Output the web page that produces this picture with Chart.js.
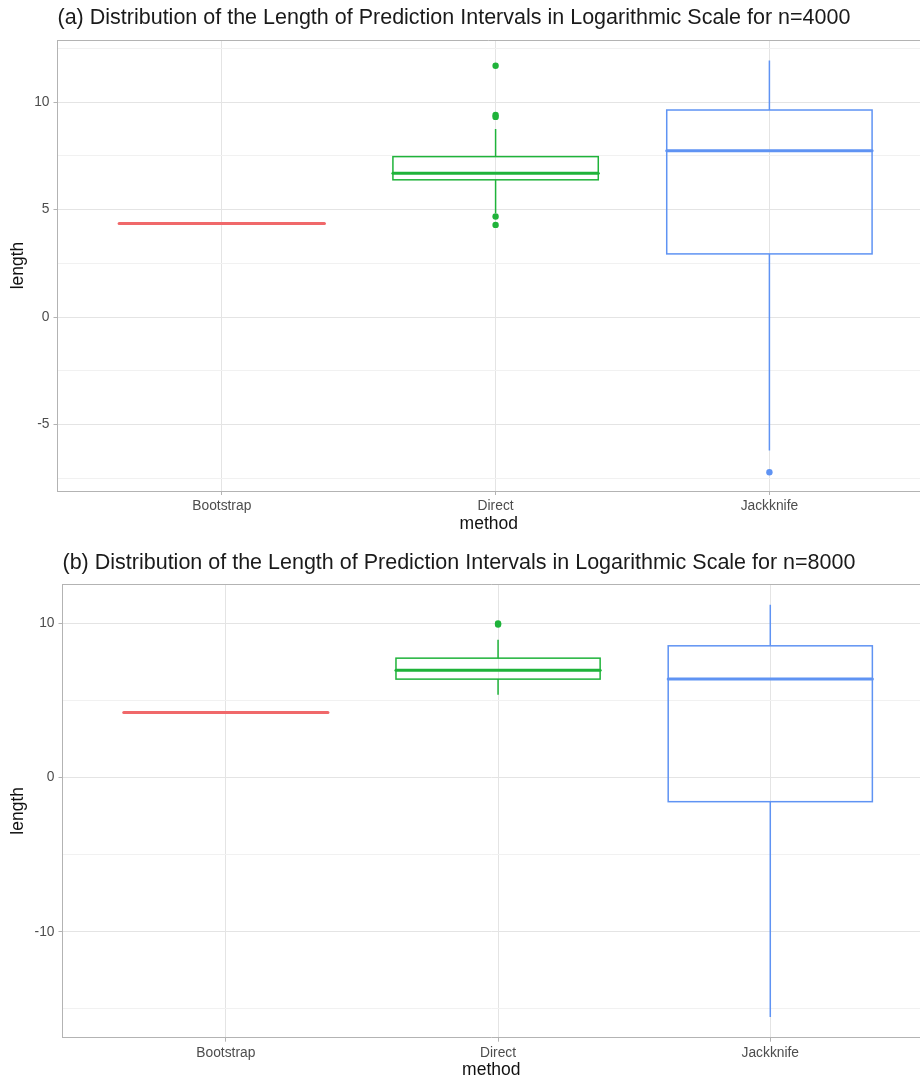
<!DOCTYPE html>
<html>
<head>
<meta charset="utf-8">
<title>Length of prediction intervals</title>
<script src="https://cdn.jsdelivr.net/npm/chart.js@4.4.0/dist/chart.umd.min.js"></script>
<style>
  html, body { margin: 0; padding: 0; background: #fff; }
  .wrap { width: 920px; overflow: hidden; }
  canvas { display: block; }
</style>
</head>
<body>
<div class="wrap">
<canvas id="chartA" width="924" height="540"></canvas>
<canvas id="chartB" width="924" height="543"></canvas>
</div>
<script>
const methods = ['Bootstrap', 'Direct', 'Jackknife'];
const colors = ['#f0686a', '#1fb33a', '#5f93f3'];

// (a) n=4000 : box stats per method
const lowerA = [4.35, 4.85, -6.22];
const q1A = [4.35, 6.39, 2.94];
const medianA = [4.35, 6.70, 7.74];
const q3A = [4.35, 7.47, 9.64];
const upperA = [4.35, 8.76, 11.95];
const outliersA = [[], [11.70, 9.41, 9.32, 4.68, 4.29], [-7.23]];
const yTicksA = [-7.5, -5, -2.5, 0, 2.5, 5, 7.5, 10, 12.5];

// (b) n=8000
const lowerB = [4.22, 5.37, -15.52];
const q1B = [4.22, 6.39, -1.56];
const medianB = [4.22, 6.97, 6.39];
const q3B = [4.22, 7.75, 8.55];
const upperB = [4.22, 8.94, 11.21];
const outliersB = [[], [9.93, 10.0], []];
const yTicksB = [-15, -10, -5, 0, 5, 10];

const boxWidth = 0.75;
const font = "'Liberation Sans', Arial, Helvetica, sans-serif";

// draws the boxes, whiskers and medians from the stats through the chart scales
function boxPlugin(stats) {
    return {
        id: 'boxes',
        beforeDatasetsDraw(chart) {
            const { ctx, chartArea, scales: { x, y } } = chart;
            ctx.save();
            // top panel border
            ctx.strokeStyle = '#b3b3b3';
            ctx.lineWidth = 1;
            ctx.beginPath();
            ctx.moveTo(chartArea.left, chartArea.top + 0.5);
            ctx.lineTo(chartArea.right, chartArea.top + 0.5);
            ctx.stroke();

            methods.forEach((m, i) => {
                const cx = x.getPixelForValue(i);
                const l = x.getPixelForValue(i - boxWidth / 2);
                const r = x.getPixelForValue(i + boxWidth / 2);
                const yLo = y.getPixelForValue(stats.lower[i]);
                const yQ1 = y.getPixelForValue(stats.q1[i]);
                const yMed = y.getPixelForValue(stats.median[i]);
                const yQ3 = y.getPixelForValue(stats.q3[i]);
                const yHi = y.getPixelForValue(stats.upper[i]);
                ctx.strokeStyle = colors[i];
                ctx.lineWidth = 1.5;
                ctx.beginPath();
                ctx.moveTo(cx, yHi); ctx.lineTo(cx, yQ3);
                ctx.moveTo(cx, yQ1); ctx.lineTo(cx, yLo);
                ctx.stroke();
                ctx.strokeRect(l, yQ3, r - l, yQ1 - yQ3);
                ctx.lineWidth = 3;
                ctx.lineCap = 'round';
                ctx.beginPath();
                ctx.moveTo(l, yMed); ctx.lineTo(r, yMed);
                ctx.stroke();
                ctx.lineCap = 'butt';
            });
            ctx.restore();
        }
    };
}

function makeChart(id, p) {
    const datasets = p.outliers.map((vals, i) => ({
        label: methods[i],
        data: vals.map(v => ({ x: i, y: v })),
        backgroundColor: colors[i],
        borderWidth: 0,
        pointRadius: 3.2
    }));

    return new Chart(document.getElementById(id), {
        type: 'scatter',
        data: { datasets: datasets },
        plugins: [boxPlugin(p.stats)],
        options: {
            responsive: false,
            animation: false,
            layout: { padding: 0 },
            plugins: {
                legend: { display: false },
                tooltip: { enabled: false },
                title: {
                    display: true,
                    text: p.title,
                    align: 'start',
                    fullSize: false,
                    color: '#1a1a1a',
                    font: { family: font, size: 21.5, weight: 'normal', lineHeight: 1.2 },
                    padding: p.titlePad
                }
            },
            scales: {
                x: {
                    type: 'linear',
                    min: -0.6,
                    max: 2.55,
                    afterBuildTicks: s => { s.ticks = [0, 1, 2].map(v => ({ value: v })); },
                    afterFit: s => { s.height = p.xHeight; },
                    grid: { color: '#e4e4e4', lineWidth: 1, tickLength: 4, tickColor: '#b3b3b3' },
                    border: { display: true, color: '#b3b3b3', width: 1 },
                    ticks: {
                        padding: 3,
                        color: '#4d4d4d',
                        font: { family: font, size: 13.8 },
                        callback: v => methods[v]
                    },
                    title: {
                        display: true,
                        text: 'method',
                        color: '#111',
                        font: { family: font, size: 17.5 },
                        padding: { top: 0, bottom: p.xTitlePad }
                    }
                },
                y: {
                    type: 'linear',
                    min: p.yMin,
                    max: p.yMax,
                    afterBuildTicks: s => { s.ticks = p.yTicks.map(v => ({ value: v })); },
                    afterFit: s => { s.width = p.yWidth; },
                    grid: {
                        color: c => (c.tick && c.tick.value % p.major === 0) ? '#e4e4e4' : '#f1f1f1',
                        lineWidth: 1,
                        tickLength: 4,
                        tickColor: c => (c.tick && c.tick.value % p.major === 0) ? '#b3b3b3' : 'rgba(0,0,0,0)'
                    },
                    border: { display: true, color: '#b3b3b3', width: 1 },
                    ticks: {
                        padding: 4,
                        color: '#4d4d4d',
                        font: { family: font, size: 13.8 },
                        callback: v => (v % p.major === 0) ? String(v) : ''
                    },
                    title: {
                        display: true,
                        text: 'length',
                        color: '#111',
                        font: { family: font, size: 17.5 },
                        padding: { top: 7.5, bottom: 0 }
                    }
                }
            }
        }
    });
}

makeChart('chartA', {
    title: '(a) Distribution of the Length of Prediction Intervals in Logarithmic Scale for n=4000',
    titlePad: { top: 5.5, bottom: 8.7 },
    stats: { lower: lowerA, q1: q1A, median: medianA, q3: q3A, upper: upperA },
    outliers: outliersA,
    yTicks: yTicksA,
    major: 5,
    yMin: -8.1,
    yMax: 12.9,
    yWidth: 57.5,
    xHeight: 49,
    xTitlePad: 5.5
});

makeChart('chartB', {
    title: '(b) Distribution of the Length of Prediction Intervals in Logarithmic Scale for n=8000',
    titlePad: { top: 10, bottom: 8.2 },
    stats: { lower: lowerB, q1: q1B, median: medianB, q3: q3B, upper: upperB },
    outliers: outliersB,
    yTicks: yTicksB,
    major: 10,
    yMin: -16.87,
    yMax: 12.56,
    yWidth: 62.5,
    xHeight: 45.3,
    xTitlePad: 2.5
});
</script>
</body>
</html>
